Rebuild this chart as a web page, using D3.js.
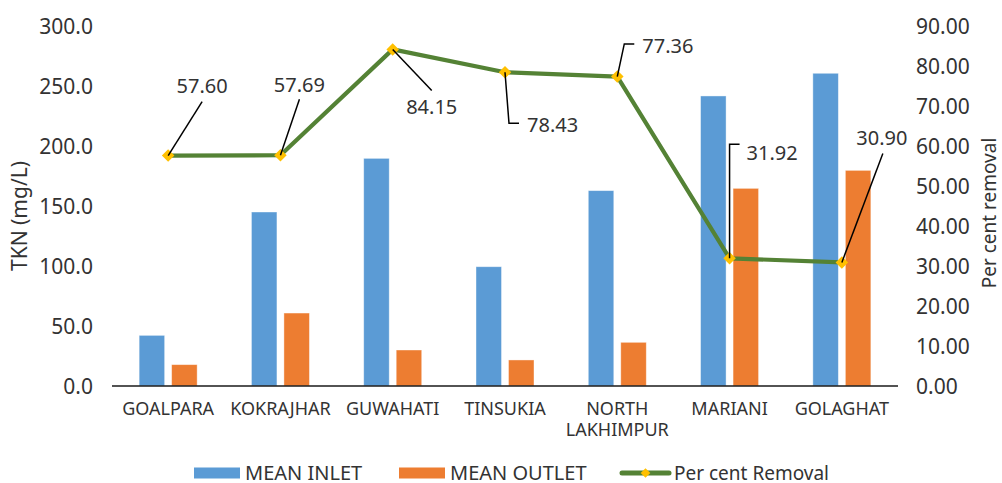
<!DOCTYPE html>
<html>
<head>
<meta charset="utf-8">
<script src="https://cdn.jsdelivr.net/npm/d3@7"></script>
<style>
  html, body { margin: 0; padding: 0; background: #fff; }
  svg { display: block; }
  text { font-family: "Noto Sans", "Open Sans", sans-serif; fill: #333; }
</style>
</head>
<body>
<svg id="chart" width="1002" height="483"></svg>
<script>
// Sampling towns
const categories = ["GOALPARA", "KOKRAJHAR", "GUWAHATI", "TINSUKIA", "NORTH LAKHIMPUR", "MARIANI", "GOLAGHAT"];
// Mean TKN concentrations (mg/L)
const meanInlet  = [42.2, 145.0, 189.7, 99.4, 162.8, 241.7, 260.6];
const meanOutlet = [17.8, 60.8, 30.0, 21.7, 36.4, 164.7, 179.7];
// Per cent removal
const percentRemoval = [57.60, 57.69, 84.15, 78.43, 77.36, 31.92, 30.90];
// Axis ticks
const leftTicks  = [0, 50, 100, 150, 200, 250, 300];
const rightTicks = [0, 10, 20, 30, 40, 50, 60, 70, 80, 90];
const seriesNames = ["MEAN INLET", "MEAN OUTLET", "Per cent Removal"];

const colors = { inlet: "#5B9BD5", outlet: "#ED7D31", line: "#548235", marker: "#FFC000" };

// Placement of each removal label and its leader line, relative to the point
const labelLayout = [
  { tx: 34, ty: -70, anchor: "middle", leader: [[34, -54]] },
  { tx: 19, ty: -70, anchor: "middle", leader: [[19, -56]] },
  { tx: 39, ty: 58,  anchor: "middle", leader: [[39, 41]] },
  { tx: 22, ty: 53,  anchor: "start",  leader: [[4, 51], [14, 51]] },
  { tx: 25, ty: -31, anchor: "start",  leader: [[7, -32.6], [17, -32.6]] },
  { tx: 17, ty: -105, anchor: "start", leader: [[0, -114], [10, -114]] },
  { tx: 40, ty: -124, anchor: "middle", leader: [[41, -109]] }
];

const svg = d3.select("#chart");
const plot = { left: 112, right: 898, top: 26, bottom: 386 };

const x = d3.scaleBand().domain(categories).range([plot.left, plot.right]).padding(0);
const xSub = d3.scaleBand().domain(["inlet", "outlet"]).range([-29, 29]).paddingInner(0.215);
const yLeft = d3.scaleLinear().domain([0, 300]).range([plot.bottom, plot.top]);
const yRight = d3.scaleLinear().domain([0, 90]).range([plot.bottom, plot.top]);

// Bars
const bars = svg.append("g");
categories.forEach((c, i) => {
  const cx = x(c) + x.bandwidth() / 2;
  [["inlet", meanInlet[i], colors.inlet], ["outlet", meanOutlet[i], colors.outlet]].forEach(([k, v, col]) => {
    bars.append("rect")
      .attr("x", cx + xSub(k))
      .attr("y", yLeft(v))
      .attr("width", xSub.bandwidth())
      .attr("height", yLeft(0) - yLeft(v))
      .attr("fill", col)
      .attr("stroke", "#fff")
      .attr("stroke-opacity", 0.5)
      .attr("stroke-width", 0.8);
  });
});

// Category axis
svg.append("line")
  .attr("x1", plot.left).attr("x2", plot.right)
  .attr("y1", yLeft(0)).attr("y2", yLeft(0))
  .attr("stroke", "#1a1a1a").attr("stroke-width", 1.6);

const catLabels = {
  "NORTH LAKHIMPUR": ["NORTH", "LAKHIMPUR"]
};
categories.forEach(c => {
  const lines = catLabels[c] || [c];
  const t = svg.append("text")
    .attr("x", x(c) + x.bandwidth() / 2)
    .attr("y", yLeft(0) + 29)
    .attr("text-anchor", "middle")
    .style("font-size", "18px");
  lines.forEach((l, j) => {
    t.append("tspan")
      .attr("x", x(c) + x.bandwidth() / 2)
      .attr("dy", j === 0 ? 0 : 21)
      .text(l);
  });
});

// Left value axis
const leftAxis = d3.axisLeft(yLeft).tickValues(leftTicks).tickFormat(d3.format(".1f")).tickSize(0).tickPadding(0);
const gl = svg.append("g").attr("transform", `translate(93,0)`).call(leftAxis);
gl.select(".domain").remove();
gl.selectAll("text").style("font-size", "21px").attr("fill", "#333").attr("dy", "0.34em").attr("font-family", "Noto Sans");

// Right value axis
const rightAxis = d3.axisRight(yRight).tickValues(rightTicks).tickFormat(d3.format(".2f")).tickSize(0).tickPadding(0);
const gr = svg.append("g").attr("transform", `translate(916,0)`).call(rightAxis);
gr.select(".domain").remove();
gr.selectAll("text").style("font-size", "21px").attr("fill", "#333").attr("dy", "0.34em").attr("font-family", "Noto Sans");

// Axis titles
svg.append("text")
  .attr("transform", "translate(20,216) rotate(-90)")
  .attr("text-anchor", "middle").attr("dy", "0.35em")
  .style("font-size", "21px").text("TKN (mg/L)");
svg.append("text")
  .attr("transform", "translate(989,213) rotate(-90)")
  .attr("text-anchor", "middle").attr("dy", "0.35em")
  .style("font-size", "19px").text("Per cent removal");

// Removal line
const pts = categories.map((c, i) => [x(c) + x.bandwidth() / 2, yRight(percentRemoval[i])]);
svg.append("path")
  .datum(pts)
  .attr("d", d3.line())
  .attr("fill", "none")
  .attr("stroke", colors.line)
  .attr("stroke-width", 4.2)
  .attr("stroke-linejoin", "round");

// Markers
const diamond = d3.symbol().type(d3.symbolDiamond2).size(100);
svg.append("g").selectAll("path").data(pts).join("path")
  .attr("d", diamond)
  .attr("transform", d => `translate(${d[0]},${d[1]})`)
  .attr("fill", colors.marker);

// Leader lines and value labels
pts.forEach((p, i) => {
  const lay = labelLayout[i];
  const path = [p].concat(lay.leader.map(o => [p[0] + o[0], p[1] + o[1]]));
  svg.append("path")
    .attr("d", d3.line()(path))
    .attr("fill", "none")
    .attr("stroke", "#000")
    .attr("stroke-width", 1.5);
  svg.append("text")
    .attr("x", p[0] + lay.tx)
    .attr("y", p[1] + lay.ty)
    .attr("dy", "0.35em")
    .attr("text-anchor", lay.anchor)
    .style("font-size", "20px")
    .text(d3.format(".2f")(percentRemoval[i]));
});

// Legend
const legend = svg.append("g");
const ly = 473;
legend.append("rect").attr("x", 194).attr("y", ly - 5.5).attr("width", 46).attr("height", 11).attr("fill", colors.inlet);
legend.append("text").attr("x", 245).attr("y", ly).attr("dy", "0.35em").style("font-size", "20px").text(seriesNames[0]);
legend.append("rect").attr("x", 399).attr("y", ly - 5.5).attr("width", 46).attr("height", 11).attr("fill", colors.outlet);
legend.append("text").attr("x", 450).attr("y", ly).attr("dy", "0.35em").style("font-size", "20px").text(seriesNames[1]);
legend.append("line").attr("x1", 622).attr("x2", 669).attr("y1", ly).attr("y2", ly)
  .attr("stroke", colors.line).attr("stroke-width", 5).attr("stroke-linecap", "round");
legend.append("path").attr("d", d3.symbol().type(d3.symbolDiamond2).size(60))
  .attr("transform", `translate(645.5,${ly})`).attr("fill", colors.marker);
legend.append("text").attr("x", 674).attr("y", ly).attr("dy", "0.35em").style("font-size", "19px").text(seriesNames[2]);
</script>
</body>
</html>
